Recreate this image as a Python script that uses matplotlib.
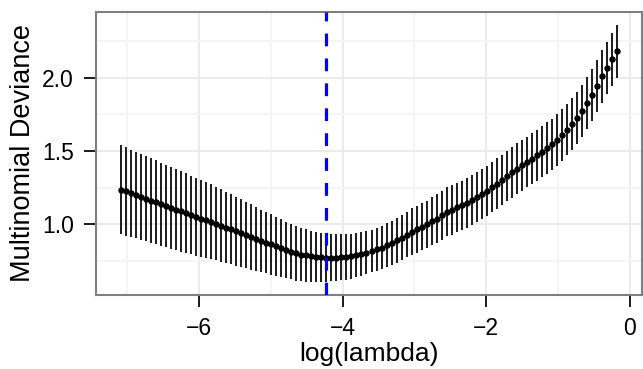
import numpy as np
import matplotlib
matplotlib.use("Agg")
import matplotlib.pyplot as plt

plt.rcParams['font.family'] = ['Liberation Sans', 'DejaVu Sans']

# cross-validation curve (glmnet style): log(lambda) grid, mean deviance and its sd
n_lambda = 100
loglam_first, loglam_last = -7.09, -0.176
log_lambda = np.linspace(loglam_first, loglam_last, n_lambda)

cvm = [1.236, 1.224, 1.211, 1.199, 1.187, 1.174, 1.162, 1.150, 1.137, 1.125,
       1.113, 1.100, 1.088, 1.076, 1.063, 1.051, 1.039, 1.027, 1.016, 1.005,
       0.991, 0.977, 0.966, 0.952, 0.939, 0.925, 0.913, 0.900, 0.886, 0.875,
       0.862, 0.850, 0.836, 0.823, 0.812, 0.802, 0.793, 0.787, 0.782, 0.777,
       0.775, 0.773, 0.773, 0.773, 0.775, 0.777, 0.782, 0.789, 0.796, 0.807,
       0.818, 0.830, 0.841, 0.857, 0.873, 0.891, 0.909, 0.930, 0.950, 0.966,
       0.982, 1.000, 1.023, 1.039, 1.061, 1.084, 1.098, 1.116, 1.129, 1.145,
       1.164, 1.184, 1.205, 1.227, 1.252, 1.277, 1.302, 1.329, 1.354, 1.380,
       1.402, 1.425, 1.448, 1.470, 1.495, 1.520, 1.545, 1.577, 1.611, 1.646,
       1.682, 1.727, 1.772, 1.827, 1.884, 1.943, 2.009, 2.066, 2.125, 2.181]

cvsd = [0.303, 0.301, 0.298, 0.296, 0.293, 0.291, 0.288, 0.286, 0.283, 0.281,
        0.279, 0.276, 0.274, 0.271, 0.269, 0.266, 0.264, 0.260, 0.256, 0.251,
        0.247, 0.243, 0.239, 0.235, 0.231, 0.226, 0.222, 0.218, 0.214, 0.210,
        0.205, 0.201, 0.197, 0.193, 0.189, 0.186, 0.182, 0.179, 0.175, 0.172,
        0.168, 0.165, 0.163, 0.161, 0.158, 0.156, 0.154, 0.152, 0.150, 0.148,
        0.146, 0.147, 0.149, 0.150, 0.152, 0.153, 0.155, 0.156, 0.158, 0.159,
        0.161, 0.162, 0.164, 0.165, 0.166, 0.167, 0.168, 0.169, 0.169, 0.170,
        0.170, 0.170, 0.171, 0.171, 0.171, 0.172, 0.172, 0.172, 0.173, 0.173,
        0.173, 0.174, 0.174, 0.174, 0.175, 0.175, 0.175, 0.176, 0.176, 0.176,
        0.177, 0.177, 0.178, 0.178, 0.179, 0.179, 0.180, 0.180, 0.181, 0.182]

lambda_min = -4.226  # position of the dashed line

xticks = [-6, -4, -2, 0]
yticks = [1.0, 1.5, 2.0]

cvm = np.array(cvm)
cvsd = np.array(cvsd)

fig = plt.figure(figsize=(6.43, 3.69), dpi=100)
ax = fig.add_axes([96/643, 74/369, (642 - 96)/643, (295 - 11.7)/369])

# ggplot-like expansion of 5% on each side
xr = log_lambda.max() - log_lambda.min()
ax.set_xlim(log_lambda.min() - 0.05*xr, log_lambda.max() + 0.05*xr)
lo, hi = (cvm - cvsd).min(), (cvm + cvsd).max()
ax.set_ylim(lo - 0.05*(hi - lo), hi + 0.05*(hi - lo))

ax.set_xticks(xticks)
ax.set_xticks([-7, -5, -3, -1], minor=True)
ax.set_yticks(yticks)
ax.set_yticks([0.75, 1.25, 1.75, 2.25], minor=True)
ax.set_yticklabels(['%.1f' % v for v in yticks])

ax.grid(which='major', color='#EBEBEB', lw=1.4, zorder=0)
ax.grid(which='minor', color='#F5F5F5', lw=1.4, zorder=0)
ax.set_axisbelow(True)

ax.vlines(log_lambda, cvm - cvsd, cvm + cvsd, color='black', lw=1.25, zorder=2)
ax.plot(log_lambda, cvm, 'o', color='black', ms=3.6, zorder=3)
ax.axvline(lambda_min, color='#0000FF', lw=2.3, linestyle=(0, (4, 3.8)), zorder=4)

for s in ax.spines.values():
    s.set_color('#7F7F7F')
    s.set_linewidth(1.5)

ax.tick_params(which='major', length=8.6, width=1.4, color='#1A1A1A', labelsize=16.5, labelcolor='black')
ax.tick_params(axis='x', pad=7)
ax.tick_params(axis='y', pad=7.5)
ax.tick_params(which='minor', length=0)

ax.set_xlabel('log(lambda)', fontsize=19, labelpad=2)
ax.set_ylabel('Multinomial Deviance', fontsize=19.5, labelpad=4)

fig.savefig('out.png', dpi=100)
